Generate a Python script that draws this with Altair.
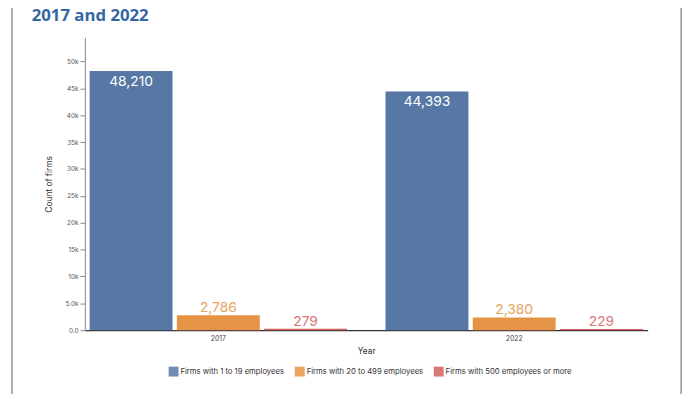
import altair as alt
import pandas as pd

years = ["2017", "2022"]
categories = [
    "Firms with 1 to 19 employees",
    "Firms with 20 to 499 employees",
    "Firms with 500 employees or more",
]
values_2017 = [48210, 2786, 279]
values_2022 = [44393, 2380, 229]
colors = ["#5778a4", "#e49444", "#d1615d"]
y_ticks = [0, 5000, 10000, 15000, 20000, 25000, 30000, 35000, 40000, 45000, 50000]
title_text = "2017 and 2022"

rows = []
for yr, vals in zip(years, [values_2017, values_2022]):
    for cat, v in zip(categories, vals):
        rows.append({"Year": yr, "Category": cat, "Count": v})
df = pd.DataFrame(rows)

FONT = "Inter"

x_enc = alt.X("Year:N", title="Year",
              scale=alt.Scale(paddingInner=0.13, paddingOuter=0.016),
              axis=alt.Axis(labelAngle=0, ticks=False, labelFontSize=7, labelColor="#444",
                            labelPadding=4, titleFontSize=8.5, titleColor="#333",
                            titleFontWeight="normal", titlePadding=6,
                            domainColor="#333", domainWidth=1.2, labelFont=FONT, titleFont=FONT))
xo_enc = alt.XOffset("Category:N", sort=categories,
                     scale=alt.Scale(paddingInner=0.05, paddingOuter=0))
y_enc = alt.Y("Count:Q", title="Count of firms",
              scale=alt.Scale(domain=[0, 54450], nice=False),
              axis=alt.Axis(values=y_ticks, format=".2s", grid=False, labelFontSize=6.5,
                            labelColor="#555", tickColor="#888", domainColor="#888",
                            tickSize=5, labelPadding=2, titleFontSize=8.5, titleColor="#333",
                            titleFontWeight="normal", titlePadding=12, labelFont=FONT,
                            titleFont=FONT, labelOverlap=False, tickCount=11))
color_enc = alt.Color("Category:N", sort=categories,
                      scale=alt.Scale(domain=categories, range=colors),
                      legend=alt.Legend(title=None, orient="none", direction="horizontal",
                                        legendX=85, legendY=334, symbolType="square",
                                        symbolSize=100, symbolStrokeWidth=0,
                                        labelFontSize=7.8, labelColor="#333", labelFont=FONT,
                                        labelOffset=2, columnPadding=10))

base = alt.Chart(df)

bars = base.mark_bar().encode(x=x_enc, xOffset=xo_enc, y=y_enc, color=color_enc)

inside = base.transform_filter(alt.datum.Category == categories[0]).mark_text(
    baseline="alphabetic", dy=15, fontSize=14, color="white", font=FONT
).encode(x=x_enc, xOffset=xo_enc, y=y_enc, text=alt.Text("Count:Q", format=","))

above = base.transform_filter(alt.datum.Category != categories[0]).mark_text(
    baseline="alphabetic", dy=-3, fontSize=14, font=FONT, opacity=0.85
).encode(x=x_enc, xOffset=xo_enc, y=y_enc, text=alt.Text("Count:Q", format=","),
         color=color_enc)

deco = alt.Chart(alt.Data(values=[{"f": 1}]))

frame = deco.mark_rect(
    fillOpacity=0, stroke="#8a96aa", strokeWidth=1.5
).encode(x=alt.value(-74), x2=alt.value(605), y=alt.value(-60), y2=alt.value(420))

title = deco.mark_text(
    align="left", baseline="alphabetic", fontSize=17, fontWeight="bold",
    color="#3465a4", font="Open Sans"
).encode(x=alt.value(-54), y=alt.value(-16.5), text=alt.value(title_text))

chart = alt.layer(bars, inside, above, frame, title).properties(
    width=571, height=297,
    autosize=alt.AutoSizeParams(type="none"),
    padding={"left": 78, "top": 27, "right": 45, "bottom": 75},
    background="white",
).configure_view(stroke=None)

chart.save("out.html", embed_options={"renderer": "svg", "actions": False})
